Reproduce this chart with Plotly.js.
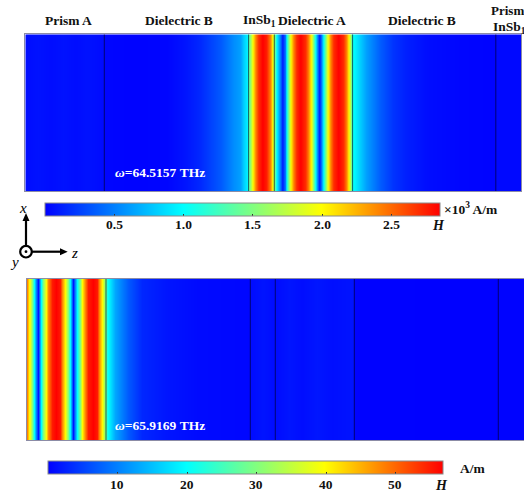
<!DOCTYPE html>
<html><head><meta charset="utf-8">
<script src="https://cdn.plot.ly/plotly-3.0.1.min.js"></script>
<style>html,body{margin:0;padding:0;background:#fff}#c{width:524px;height:495px}</style>
</head><body><div id="c"></div>
<script>
var zTop = [0,12,25,38,50,62,78,80,110,141,160,175,195,208,214.7,218,223,223.4,224.7,226.7,229.7,233,236.7,241.4,244.7,247,248,251.4,254.7,257.4,259.7,261.4,264.7,268,271.4,275.4,279.7,283,286.4,289.7,292,294,296.4,298,302,304.7,308,313,318,321.4,325.4,327,327.7,341.4,354.7,367.7,380.7,401.7,435,470,470.7,496];
var hTop = [0.05,0.07,0.05,0.07,0.05,0.07,0.04,0.02,0.01,0.02,0.08,0.16,0.35,0.55,0.63,0.8,1.0,1.3,1.6,1.95,2.4,2.7,2.85,2.75,2.4,2.0,1.75,1.0,0.45,0.1,0.5,1.0,1.95,2.4,2.7,2.85,2.7,2.4,1.95,1.0,0.5,0.1,0.5,1.0,1.9,2.4,2.7,2.85,2.7,2.4,1.7,1.05,1.0,0.62,0.36,0.2,0.12,0.05,0.02,0.01,0.03,0.03];
var zBottom = [0,2,3,4.7,7.3,9,11.3,13.7,16.3,18.7,21.3,24.7,29,33,35.3,38,40.7,43,46.3,49.7,53,55.3,58,61.3,65.7,69.7,72,74.7,78,79,79.5,80.7,88,101,115,140,170,222,224,236,248,249,262,275,290,305,326,327,400,471,472,497];
var hBottom = [48,40,38,30,20,10,1.5,20,30,40,48,55,56.8,55,48,40,30,20,1.5,20,30,40,48,55,56.8,55,48,40,30,27,22,20,13,7,3,1.6,0.8,0.5,0.9,1.5,0.9,0.9,1.6,1.0,1.7,1.1,1.5,0.2,0.1,0.1,0.2,0.2];
var topInterfaces = [79,223.3,249,327.3,470.5];
var bottomInterfaces = [79,223.3,248.3,327.3,471.3];
var topTicks = [0.5,1.0,1.5,2.0,2.5];
var topTickText = ['0.5','1.0','1.5','2.0','2.5'];
var bottomTicks = [10,20,30,40,50];
var bottomTickText = ['10','20','30','40','50'];
var topLayers = ['Prism A','Dielectric B','InSb<sub>1</sub>','Dielectric A','Dielectric B'];
var topLayerX = [68.5,178.5,259,312,421.5];
var jet = [[0,'#0000ff'],[0.35,'#00ffff'],[0.525,'#80ff80'],[0.7,'#ffff00'],[1,'#ff0000']];
var W=524,H=495;
function px(x){return x/W} function py(y){return 1-y/H}

function cbar(x0,x1,yTop,thick,ticks){return {
  orientation:'h',lenmode:'pixels',len:x1-x0,thicknessmode:'pixels',thickness:thick,
  x:px(x0),xanchor:'left',y:py(yTop),yanchor:'top',xpad:0,ypad:0,
  tickmode:'array',tickvals:ticks,showticklabels:false,ticks:'inside',ticklen:2,tickcolor:'#333',tickwidth:1,
  outlinecolor:'#8a8a8a',outlinewidth:1,borderwidth:0
}}
var traces=[
 {type:'heatmap',x:zTop,y:[0,1],z:[hTop,hTop],xaxis:'x',yaxis:'y',zmin:0,zmax:2.85,zsmooth:'best',colorscale:jet,hoverinfo:'skip',
  colorbar:cbar(45,440,202.7,12.5,topTicks)},
 {type:'heatmap',x:zBottom,y:[0,1],z:[hBottom,hBottom],xaxis:'x2',yaxis:'y2',zmin:0,zmax:56.8,zsmooth:'best',colorscale:jet,hoverinfo:'skip',
  colorbar:cbar(48,442.7,460.7,13,bottomTicks)}
];
var shapes=[];
topInterfaces.forEach(function(v){shapes.push({type:'line',xref:'x',yref:'y',x0:v,x1:v,y0:0,y1:1,line:{color:'rgba(0,0,30,0.62)',width:1}})});
bottomInterfaces.forEach(function(v){shapes.push({type:'line',xref:'x2',yref:'y2',x0:v,x1:v,y0:0,y1:1,line:{color:'rgba(0,0,30,0.62)',width:1}})});
function tickX1(v){return 45+395*v/2.85}
function tickX2(v){return 48+394.7*v/56.8}
// upper ticks of the two colour bars
topTicks.forEach(function(v){var X=tickX1(v);shapes.push({type:'line',xref:'paper',yref:'paper',x0:px(X),x1:px(X),y0:py(203),y1:py(205),line:{color:'#333',width:1}})});
bottomTicks.forEach(function(v){var X=tickX2(v);shapes.push({type:'line',xref:'paper',yref:'paper',x0:px(X),x1:px(X),y0:py(461),y1:py(463),line:{color:'#333',width:1}})});
// coordinate triad
function seg(x0,y0,x1,y1){shapes.push({type:'line',xref:'paper',yref:'paper',x0:px(x0),x1:px(x1),y0:py(y0),y1:py(y1),line:{color:'#000',width:2.2}})}
function tri(a,b,c){shapes.push({type:'path',xref:'paper',yref:'paper',path:'M'+px(a[0])+','+py(a[1])+' L'+px(b[0])+','+py(b[1])+' L'+px(c[0])+','+py(c[1])+' Z',fillcolor:'#000',line:{width:0}})}
seg(26,246,26,219); tri([26,213],[22.5,221],[29.5,221]);
seg(32,251.7,62,251.7); tri([67.7,251.7],[60,248.2],[60,255.2]);
shapes.push({type:'circle',xref:'paper',yref:'paper',x0:px(20.2),x1:px(31.8),y0:py(257.5),y1:py(245.9),line:{color:'#000',width:2.2},fillcolor:'#fff'});
shapes.push({type:'circle',xref:'paper',yref:'paper',x0:px(24.6),x1:px(27.4),y0:py(253.1),y1:py(250.3),line:{color:'#000',width:0},fillcolor:'#000'});

var ann=[];
function txt(x,y,t,size,color){ann.push({xref:'paper',yref:'paper',x:px(x),y:py(y),text:t,showarrow:false,xanchor:'center',yanchor:'middle',
  font:{family:'Liberation Serif',size:size,color:color||'#111'}})}
topLayers.forEach(function(t,i){txt(topLayerX[i],20,'<b>'+t+'</b>',13.5)});
txt(507.5,10,'<b>Prism</b>',13);
txt(509,27,'<b>InSb<sub>1</sub></b>',13.5);
txt(160,172.5,'<b><i>ω</i>=64.5157 THz</b>',13.5,'#fff');
txt(160,425,'<b><i>ω</i>=65.9169 THz</b>',13.5,'#fff');
txt(471,208.5,'<b>×10<sup>3</sup> A/m</b>',13.5);
txt(438,225.5,'<b><i>H</i></b>',14);
txt(473,468,'<b>A/m</b>',13.5);
txt(441,485,'<b><i>H</i></b>',14);
topTicks.forEach(function(v,i){txt(tickX1(v),224.5,'<b>'+topTickText[i]+'</b>',13.5)});
bottomTicks.forEach(function(v,i){txt(tickX2(v),484.5,'<b>'+bottomTickText[i]+'</b>',13.5)});
txt(23,208,'<i>x</i>',15,'#000');
txt(74,253,'<i>z</i>',15,'#000');
txt(14,262,'<i>y</i>',15,'#000');

var ax=function(l,r){return {domain:[px(l),px(r)],range:[0,r-l],showgrid:false,zeroline:false,showticklabels:false,ticks:'',showline:true,mirror:true,linecolor:'rgba(120,120,150,0.85)',linewidth:1}};
var ay=function(t,b,an){return {domain:[py(b),py(t)],range:[0,1],anchor:an,showgrid:false,zeroline:false,showticklabels:false,ticks:'',showline:true,mirror:true,linecolor:'rgba(120,120,150,0.85)',linewidth:1}};
var xa=ax(25.3,521),xb=ax(27,524);xb.anchor='y2';
var layout={width:W,height:H,margin:{l:0,r:0,t:0,b:0,pad:0,autoexpand:false},paper_bgcolor:'#fff',plot_bgcolor:'#fff',showlegend:false,
 xaxis:xa,yaxis:ay(34.3,191,'x'),xaxis2:xb,yaxis2:ay(279,440,'x2'),shapes:shapes,annotations:ann};
Plotly.newPlot('c',traces,layout,{displayModeBar:false,responsive:false});
</script></body></html>
